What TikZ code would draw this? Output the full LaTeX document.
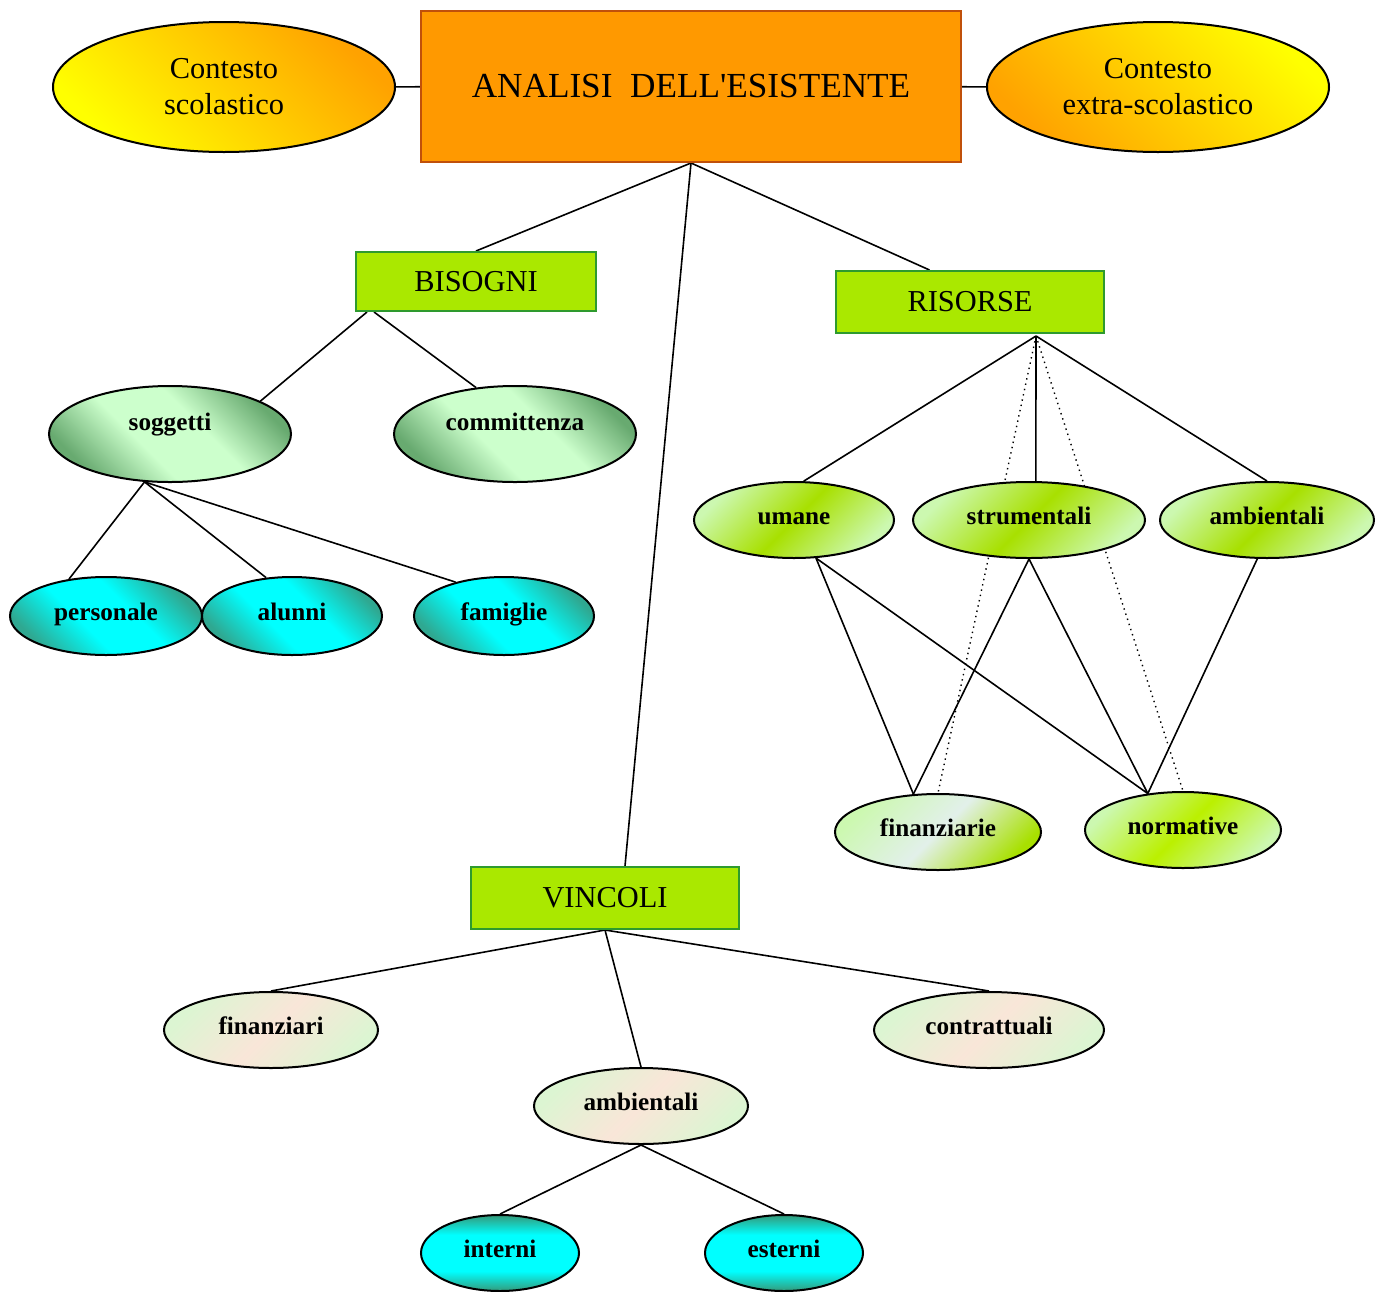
\documentclass[tikz,border=0pt]{standalone}
\usepackage{fontspec}
\setmainfont{Liberation Serif}
\usetikzlibrary{shapes.geometric,calc,backgrounds}

\definecolor{arancio}{HTML}{FF9900}
\definecolor{bordoarancio}{HTML}{C0500A}
\definecolor{giallo}{HTML}{FFFF00}
\definecolor{arancione}{HTML}{FFA200}
\definecolor{verdelime}{HTML}{AAE800}
\definecolor{bordoverde}{HTML}{2E9A2E}
\definecolor{verdescuro}{HTML}{68AA70}
\definecolor{verdechiaro}{HTML}{CCFFCC}
\definecolor{ciano}{HTML}{00FFFF}
\definecolor{foglia}{HTML}{2FA891}
\definecolor{limechiaro}{HTML}{CCF8B0}
\definecolor{limeforte}{HTML}{A8E000}
\definecolor{limegiallo}{HTML}{BBF000}
\definecolor{bianchiccio}{HTML}{E2F0EA}
\definecolor{pastverde}{HTML}{DCF5D2}
\definecolor{pesca}{HTML}{F9E6D8}
\definecolor{tealscuro}{HTML}{349A7A}

\pgfdeclareverticalshading{bandaverde}{100bp}{color(0bp)=(verdescuro); color(25bp)=(verdescuro);
	color(42bp)=(verdechiaro); color(58bp)=(verdechiaro); color(75bp)=(verdescuro); color(100bp)=(verdescuro)}
\pgfdeclareverticalshading{bandaciano}{100bp}{color(0bp)=(foglia); color(25bp)=(foglia);
	color(42bp)=(ciano); color(58bp)=(ciano); color(75bp)=(foglia); color(100bp)=(foglia)}
\pgfdeclareverticalshading{bandateal}{100bp}{color(0bp)=(tealscuro); color(25bp)=(tealscuro);
	color(38bp)=(ciano); color(62bp)=(ciano); color(75bp)=(tealscuro); color(100bp)=(tealscuro)}

\begin{document}
\begin{tikzpicture}[x=0.5pt,y=-0.5pt,
		ramo/.style={line width=0.8pt},
		ramopunti/.style={line width=0.7pt, dotted},
		contesto/.style={ellipse, draw=black, line width=1pt, inner sep=0pt, minimum width=171pt,
			minimum height=65pt, align=center, font=\fontsize{15.2}{18}\selectfont},
		riquadro/.style={rectangle, draw=bordoverde, line width=1pt, fill=verdelime, inner sep=0pt,
			font=\fontsize{15.2}{18}\selectfont},
		ovale/.style={ellipse, draw=black, line width=1pt, inner sep=0pt, text height=8pt,
			text depth=4pt, font=\fontsize{12.6}{15}\selectfont\bfseries},
		sfverde/.style={shade, shading=bandaverde, shading angle=-45},
		sfciano/.style={shade, shading=bandaciano, shading angle=-45},
		sflime/.style={top color=limechiaro, bottom color=limechiaro, middle color=limeforte, shading angle=45},
		sfpastello/.style={top color=pastverde, bottom color=pastverde, middle color=pesca, shading angle=45},
		sfteal/.style={shade, shading=bandateal}]
	\useasboundingbox (0,0) rectangle (1382,1291);

	% ANALISI
	\node[rectangle, draw=bordoarancio, line width=1pt, fill=arancio, minimum width=270pt, minimum height=75.5pt,
		font=\fontsize{17.6}{20}\selectfont] (analisi) at (691,86.5) {ANALISI~~DELL\textquotesingle ESISTENTE};
	\node[contesto, top color=arancione, bottom color=giallo, shading angle=-45] (scol) at (224,87) {Contesto\\scolastico};
	\node[contesto, top color=giallo, bottom color=arancione, shading angle=-45] (extra) at (1158,87) {Contesto\\extra-scolastico};

	% BISOGNI
	\node[riquadro, minimum width=120pt, minimum height=29.5pt] (bis) at (476,281.5) {BISOGNI};
	\node[ovale, sfverde, minimum width=121pt, minimum height=48pt, text depth=12pt] (sogg) at (170,434) {soggetti};
	\node[ovale, sfverde, minimum width=121pt, minimum height=48pt, text depth=12pt] (comm) at (515,434) {committenza};
	\node[ovale, sfciano, minimum width=96pt, minimum height=39pt] (pers) at (106,616) {personale};
	\node[ovale, sfciano, minimum width=90pt, minimum height=39pt] (alun) at (292,616) {alunni};
	\node[ovale, sfciano, minimum width=90pt, minimum height=39pt] (fami) at (504,616) {famiglie};

	% RISORSE
	\node[riquadro, minimum width=134pt, minimum height=31pt] (ris) at (970,302) {RISORSE};
	\coordinate (rhub) at ($(ris.south)+(66,2)$); % vertice dei rami
	\node[ovale, sflime, minimum width=100pt, minimum height=38pt] (uma) at (794,520) {umane};
	\node[ovale, sflime, minimum width=116pt, minimum height=38pt] (stru) at (1029,520) {strumentali};
	\node[ovale, sflime, minimum width=107pt, minimum height=38pt] (ambr) at (1267,520) {ambientali};
	\node[ovale, top color=limechiaro, bottom color=limeforte, middle color=bianchiccio, shading angle=45,
		minimum width=103pt, minimum height=38pt] (finr) at (938,832) {finanziarie};
	\node[ovale, sflime, middle color=limegiallo, minimum width=98pt, minimum height=38pt] (norm) at (1183,830) {normative};

	% VINCOLI
	\node[riquadro, minimum width=134pt, minimum height=31pt] (vin) at (605,898) {VINCOLI};
	\node[ovale, sfpastello, minimum width=107pt, minimum height=38pt] (finv) at (271,1030) {finanziari};
	\node[ovale, sfpastello, minimum width=107pt, minimum height=38pt] (ambv) at (641,1106) {ambientali};
	\node[ovale, sfpastello, minimum width=115pt, minimum height=38pt] (contr) at (989,1030) {contrattuali};
	\node[ovale, sfteal, minimum width=79pt, minimum height=38pt] (int) at (500,1253) {interni};
	\node[ovale, sfteal, minimum width=79pt, minimum height=38pt] (est) at (784,1253) {esterni};

	% DRAW TREE
	\begin{scope}[on background layer]
		\path[draw, ramo] (scol) -- (analisi); \path[draw, ramo] (analisi) -- (extra);
		\path[draw, ramo] (analisi.south) -- (bis.north);
		\path[draw, ramo] (analisi.south) -- ($(ris.north west)!.35!(ris.north east)$);
		\path[draw, ramo] (analisi.south) -- ($(vin.north)+(20,0)$);
		\path[draw, ramo] ($(bis.south west)+(12,0)$) -- (sogg.20);
		\path[draw, ramo] ($(bis.south west)+(19,0)$) -- (comm.130);
		\path[draw, ramo] (sogg.-118) -- (pers.135); \path[draw, ramo] (sogg.-118) -- (alun.124);
		\path[draw, ramo] (sogg.-118) -- (fami.145);
		\path[draw, ramo] (rhub) -- (uma.76); \path[draw, ramo] (rhub) -- (stru.80);
		\path[draw, ramo] (rhub) -- (ambr.north);
		\path[draw, ramopunti] (rhub) -- (finr.north); \path[draw, ramopunti] (rhub) -- (norm.north);
		\path[draw, ramo] (uma.-60) -- (finr.123); \path[draw, ramo] (uma.-60) -- (norm.134);
		\path[draw, ramo] (stru.south) -- (finr.123); \path[draw, ramo] (stru.south) -- (norm.134);
		\path[draw, ramo] (ambr.-104) -- (norm.134);
		\path[draw, ramo] (vin.south) -- (finv.north); \path[draw, ramo] (vin.south) -- (ambv.north);
		\path[draw, ramo] (vin.south) -- (contr.north);
		\path[draw, ramo] (ambv.south) -- (int.north); \path[draw, ramo] (ambv.south) -- (est.north);
	\end{scope}
\end{tikzpicture}
\end{document}
